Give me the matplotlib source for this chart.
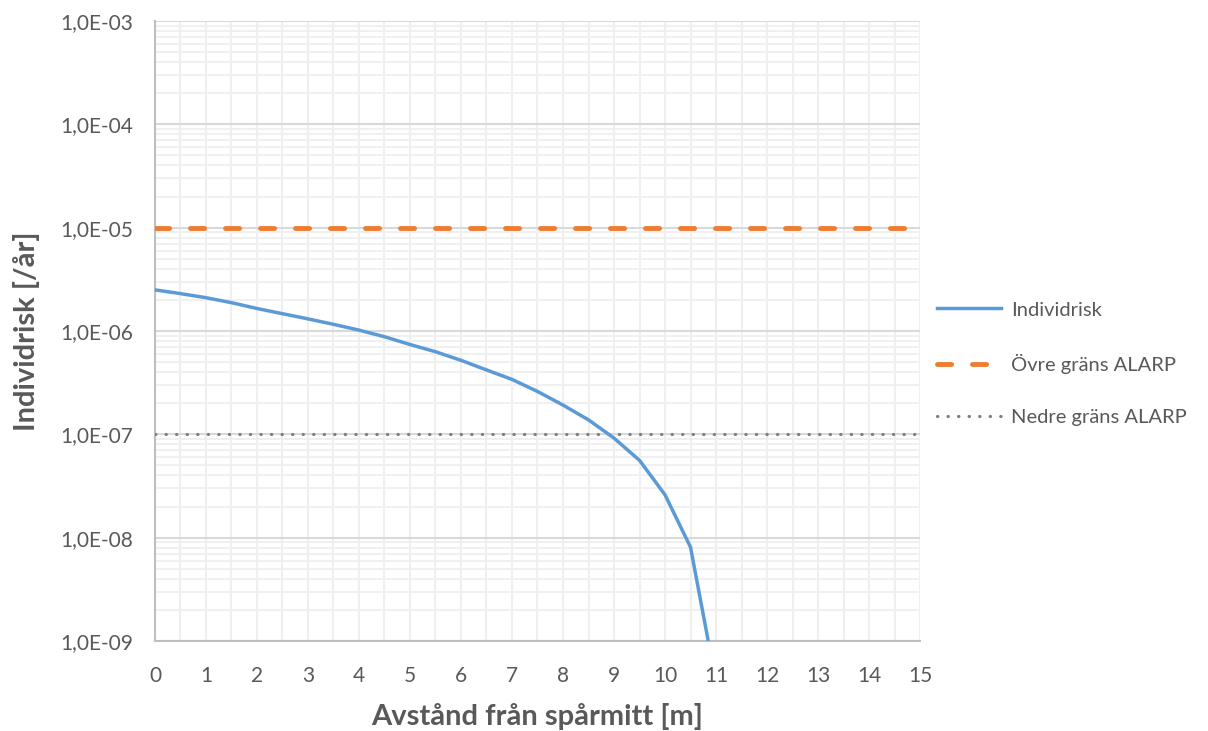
import numpy as np
import matplotlib.pyplot as plt
from matplotlib.ticker import FixedLocator, NullFormatter, FuncFormatter

plt.rcParams['font.family'] = ['Lato', 'DejaVu Sans']

# distance from track centre [m] and individual risk [/year]
distance = [0, 0.5, 1, 1.5, 2, 2.5, 3, 3.5, 4, 4.5, 5, 5.5, 6, 6.5, 7, 7.5,
            8, 8.5, 9, 9.5, 10, 10.5, 11]
risk = [2.5e-6, 2.3e-6, 2.1e-6, 1.88e-6, 1.65e-6, 1.47e-6, 1.31e-6, 1.16e-6,
        1.02e-6, 8.8e-7, 7.4e-7, 6.3e-7, 5.2e-7, 4.2e-7, 3.4e-7, 2.6e-7,
        1.92e-7, 1.38e-7, 9.2e-8, 5.6e-8, 2.6e-8, 8.1e-9, 4e-10]

upper_alarp = 1e-5
lower_alarp = 1e-7
x_ticks = list(range(0, 16))
y_ticks = [1e-9, 1e-8, 1e-7, 1e-6, 1e-5, 1e-4, 1e-3]

fig = plt.figure(figsize=(12.08, 7.31), dpi=100)
ax = fig.add_axes([0.1283, 0.1231, 0.6333, 0.8482])

ax.plot(distance, risk, color='#5b9bd5', lw=2.5, label='Individrisk', zorder=5)
ax.axhline(upper_alarp, color='#ed7d31', lw=3.5, ls=(0, (2.9, 4.3)),
           dash_capstyle='round', label='Övre gräns ALARP', zorder=4)
ax.axhline(lower_alarp, color='#7f7f7f', lw=2.3, ls=(0, (0.1, 3.2)),
           dash_capstyle='round', label='Nedre gräns ALARP', zorder=4)

ax.set_yscale('log')
ax.set_xlim(0, 15)
ax.set_ylim(1e-9, 1e-3)

minor_y = [d * m for d in y_ticks[:-1] for m in range(2, 10)]
ax.xaxis.set_major_locator(FixedLocator(x_ticks))
ax.xaxis.set_minor_locator(FixedLocator(np.arange(0.5, 15, 1.0)))
ax.xaxis.set_minor_formatter(NullFormatter())
ax.yaxis.set_major_locator(FixedLocator(y_ticks))
ax.yaxis.set_minor_locator(FixedLocator(minor_y))
ax.yaxis.set_minor_formatter(NullFormatter())
ax.yaxis.set_major_formatter(FuncFormatter(
    lambda v, p: '{:.1E}'.format(v).replace('.', ',')))

ax.grid(True, which='major', axis='y', color='#d9d9d9', lw=1.5)
ax.grid(True, which='minor', axis='y', color='#efefef', lw=1.3)
ax.grid(True, which='both', axis='x', color='#efefef', lw=1.5)
ax.set_axisbelow(True)

ax.tick_params(which='both', length=0, labelsize=15, colors='#595959')
ax.tick_params(axis='x', pad=18)
ax.tick_params(axis='y', pad=16)
for side in ['top', 'right']:
    ax.spines[side].set_visible(False)
for side in ['left', 'bottom']:
    ax.spines[side].set_color('#bfbfbf')
    ax.spines[side].set_linewidth(1.5)

ax.set_xlabel('Avstånd från spårmitt [m]', fontsize=21, fontweight='bold',
              color='#595959', labelpad=12)
ax.set_ylabel('Individrisk [/år]', fontsize=21, fontweight='bold',
              color='#595959', labelpad=14)

leg = ax.legend(loc='center left', bbox_to_anchor=(1.022, 0.447), frameon=False,
                borderaxespad=0, borderpad=0, fontsize=14.5, labelcolor='#595959',
                handlelength=3.2, labelspacing=1.75, handletextpad=0.5)

plt.savefig('out.png', dpi=100)
